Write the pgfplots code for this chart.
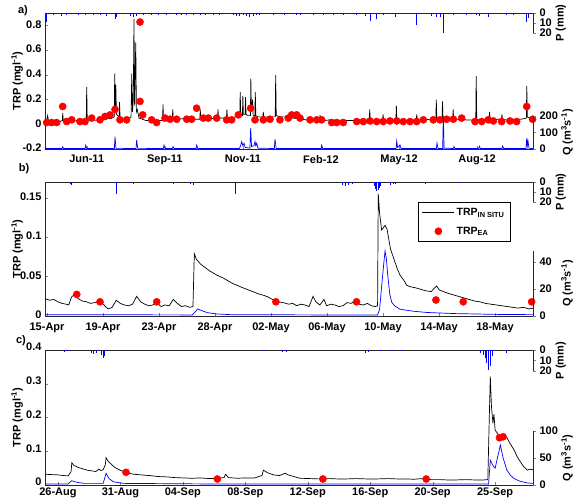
\documentclass[border=0pt]{standalone}
\usepackage{fontspec}
\setmainfont{Liberation Sans}
\usepackage{pgfplots}
\pgfplotsset{compat=1.18}
\newcommand\bigf{\bfseries\fontsize{11}{13}\selectfont}
\pgfplotsset{
  common/.style={scale only axis, width=488pt,
    /pgf/number format/assume math mode=true,
    tick label style={font=\bigf},
    label style={font=\bigf},
    major tick length=3pt},
  mainax/.style={common, axis lines*=left, tick align=inside,
    axis line style={black!85, line width=0.6pt},
    yticklabel style={/pgf/number format/fixed, inner ysep=0.5pt},
    xticklabel style={inner ysep=0.5pt},
    ylabel={TRP (mgl\textsuperscript{-1})},
    ylabel style={at={(axis description cs:-0.057,0.5)}, anchor=center}},
  rightax/.style={common, axis x line=none, axis y line*=right, tick align=outside,
    axis line style={black!85, line width=0.6pt}, clip=false,
    ylabel style={at={(axis description cs:#1,0.5)}, anchor=center}},
  pstyle/.style={rightax=1.057, y dir=reverse, ymin=0, ymax=20, ytick={0,10,20}, ylabel={P (mm)}},
  trp/.style={black, line width=0.7pt, no marks},
  ea/.style={only marks, mark=*, red, mark size=3.6pt},
  qline/.style={blue, line width=0.7pt, no marks},
  pbar/.style={ycomb, blue, line width=1pt, no marks},
  legline/.style={legend image code/.code={\draw[##1] (0pt,0pt) -- (32pt,0pt);}},
  legmark/.style={legend image code/.code={\draw[##1] plot coordinates {(16pt,0pt)};}},
}
\begin{document}
\bfseries
\begin{tikzpicture}
% ================= panel a =================
\begin{axis}[mainax, at={(45pt,-149pt)}, anchor=south west, height=136pt,
  xmin=0, xmax=550, ymin=-0.2, ymax=0.9, ytick={-0.2,0,0.2,0.4,0.6,0.8},
  xticklabel style={yshift=-5.5pt}, yticklabel style={yshift=1pt},
  xtick={47,135,223,311,399,487}, xticklabels={Jun-11,Sep-11,Nov-11,Feb-12,May-12,Aug-12}]
\draw[black!85, line width=0.6pt] (rel axis cs:0,1) -- (rel axis cs:1,1);
\addplot[trp] coordinates {
(0,0.03)(1.5,0.02)(3,0.07)(4,0.025)(8,0.02)(12,0.025)(16,0.02)(19.5,0.03)(20,0.09)(20.6,0.03)
(24,0.025)(28,0.03)(32,0.025)(36,0.03)(40,0.025)(44,0.03)(46.5,0.03)(47,0.30)(47.6,0.04)(50,0.03)
(55,0.035)(60,0.03)(65,0.04)(70,0.05)(74,0.045)(78,0.06)(78.6,0.41)(79.2,0.12)(79.8,0.32)(80.5,0.08)
(83.5,0.06)(84,0.18)(84.6,0.06)(88,0.04)(92,0.04)(95,0.05)(97,0.06)(97.8,0.41)(98.6,0.1)(99.5,0.2)
(100.3,0.85)(101,0.15)(102.3,0.66)(103,0.1)(104,0.12)(106,0.05)(110,0.04)(114,0.03)(118,0.03)(122,0.025)
(126,0.03)(130,0.03)(132.5,0.03)(133,0.16)(133.6,0.04)(137,0.04)(141,0.035)(143.5,0.04)(144,0.12)(144.6,0.04)
(150,0.04)(155,0.045)(160,0.04)(165,0.045)(170,0.04)(174.5,0.04)(175,0.12)(175.6,0.045)(180,0.045)(185,0.05)
(190,0.045)(194.5,0.05)(195,0.12)(195.6,0.05)(200,0.05)(204.5,0.05)(205,0.12)(205.6,0.05)(210,0.05)(215,0.06)
(219.5,0.06)(220,0.26)(220.6,0.08)(222.5,0.07)(223,0.23)(223.6,0.08)(225.5,0.08)(226,0.22)(226.6,0.08)(229,0.07)
(231.5,0.07)(232,0.37)(232.6,0.1)(234,0.2)(234.6,0.07)(236.5,0.07)(237,0.26)(237.6,0.07)(240,0.06)(244,0.06)
(245.5,0.06)(246,0.1)(246.6,0.06)(250,0.06)(255,0.06)(259.5,0.06)(260,0.40)(260.6,0.07)(265,0.06)(270,0.06)
(275,0.055)(280,0.05)(285,0.045)(290,0.04)(295,0.035)(300,0.035)(305,0.03)(309.5,0.035)(310,0.076)(310.6,0.035)
(315,0.03)(320,0.035)(325,0.03)(330,0.03)(335,0.035)(340,0.03)(345,0.03)(350,0.03)(355,0.035)(360,0.03)
(365.5,0.035)(366,0.12)(366.6,0.035)(370,0.03)(375,0.035)(380.5,0.035)(381,0.08)(381.6,0.035)(386,0.03)(391,0.035)
(395.5,0.035)(396,0.15)(396.6,0.035)(400,0.03)(405,0.035)(410,0.03)(414,0.035)(418.5,0.035)(419,0.08)(419.6,0.035)
(425,0.035)(430,0.04)(435,0.035)(440.5,0.04)(441,0.20)(441.6,0.04)(445,0.04)(447.5,0.04)(448,0.185)(448.6,0.04)
(452,0.04)(455,0.045)(459.5,0.04)(460,0.12)(460.6,0.04)(465,0.04)(470,0.04)(475,0.035)(480,0.035)(485.5,0.035)
(486,0.39)(486.6,0.04)(490,0.035)(495,0.04)(500.5,0.04)(501,0.10)(501.6,0.04)(505,0.035)(510,0.04)(514.5,0.04)
(515,0.08)(515.6,0.04)(520,0.035)(525,0.035)(530,0.04)(535,0.04)(540,0.045)(542.5,0.05)(543,0.31)(543.6,0.06)
(546,0.05)(550,0.04)};
\addplot[ea] coordinates {
(1.9,0.014)(7.5,0.014)(13.1,0.014)(19.9,0.144)(24.4,0.022)(30.1,0.036)(39.4,0.022)(45.1,0.022)(52.6,0.05)(62.0,0.036)
(67.6,0.063)(73.3,0.076)(78.9,0.12)(84.5,0.036)(92.0,0.036)(107.1,0.827)(107.1,0.185)(110.1,0.076)(120.2,0.036)(125.8,0.014)
(135.2,0.05)(140.9,0.041)(148.4,0.041)(159.7,0.041)(165.3,0.041)(170.9,0.13)(178.4,0.05)(184.1,0.05)(193.5,0.05)(204.7,0.036)
(210.4,0.036)(217.9,0.076)(231.8,0.13)(236.7,0.036)(246.1,0.036)(253.6,0.041)(264.8,0.036)(274.2,0.05)(278.0,0.076)(283.6,0.076)
(287.4,0.05)(298.7,0.036)(306.2,0.036)(311.8,0.036)(323.1,0.014)(328.7,0.014)(336.2,0.014)(351.3,0.022)(358.8,0.022)(366.3,0.027)
(373.8,0.022)(381.3,0.022)(388.8,0.027)(396.4,0.027)(403.8,0.022)(411.4,0.022)(418.9,0.022)(426.4,0.036)(437.6,0.036)(445.2,0.036)
(452.7,0.041)(460.2,0.041)(469.6,0.05)(484.6,0.022)(492.2,0.022)(499.6,0.036)(505.3,0.027)(514.7,0.022)(524.1,0.027)(531.6,0.022)
(542.9,0.144)(549.5,0.041)};
\end{axis}
\begin{axis}[rightax=1.07, at={(45pt,-149pt)}, anchor=south west, height=33pt,
  xmin=0, xmax=550, ymin=0, ymax=200, ytick={0,100,200}, ylabel={Q (m\textsuperscript{3}s\textsuperscript{-1})}]
\addplot[qline] coordinates {
(0,3)(19.2,3)(19.9,14)(21,3)(45.2,3)(45.9,24)(47,3)(78.2,3)(78.9,75)(80,4)
(102.6,3)(103.3,55)(104.5,4)(133.4,3)(134.1,24)(135.3,3)(143.6,3)(144.3,15)(145.5,3)(170.3,3)
(171,24)(172.2,3)(219,3)(220.5,20)(221.7,45)(223,20)(224.3,35)(225.5,10)(231,5)(231.8,127)
(232.8,15)(235.5,20)(236.7,45)(237.6,20)(238.6,35)(240,5)(258.5,3)(259.2,60)(260.5,3)(311.1,3)
(311.8,24)(313,3)(395.7,3)(396.4,48)(397.3,10)(400.1,25)(401.3,3)(441.1,3)(441.8,36)(443,3)
(448.2,3)(448.9,196)(449.8,5)(460.2,3)(460.9,15)(462,3)(488.8,3)(489.5,16)(490.7,3)(515.1,3)
(515.8,18)(517,3)(542.2,3)(542.9,65)(543.6,20)(544.3,50)(545.5,4)(550,3)};
\end{axis}
\begin{axis}[pstyle, at={(45pt,-13pt)}, anchor=north west, height=20pt, xmin=0, xmax=550]
\addplot[pbar] coordinates {
(1.9,9)(9.4,2)(18.8,3)(24.4,2)(37.6,2)(45.1,2)(54.5,2)(62,2)(69.5,2.5)(78.9,6.3)
(80.8,4)(95.8,3)(99.5,4)(103.3,3)(110.8,2)(120.2,2)(127.7,1.5)(137.1,2)(148.4,2)(154,1.5)
(159.7,2)(167.2,2)(174.7,2)(180.4,2)(189.7,2)(197.2,1.5)(212.2,2)(216,3)(219.7,3)(223.5,2)
(227.3,3)(231,4)(234.8,3)(238.5,2)(242.3,2)(257.3,2)(270,1.5)(283.6,2)(287.4,2)(302.4,2)
(313.7,1.5)(325,2)(336.2,2)(351.3,2)(360.7,3)(366.3,8)(373.8,6)(381.3,2)(394.5,4)(418.9,11.6)
(435.8,3)(441.5,4)(445.2,4)(448.9,20)(460.2,2)(475.2,2)(486.5,2)(490.2,3)(499.6,4)(520.3,2)
(527.8,2)(542.9,9)(544.8,5)};
\end{axis}
% ================= panel b =================
\begin{axis}[mainax, at={(45pt,-316pt)}, anchor=south west, height=134pt,
  xmin=-0.15, xmax=35.8, ymin=0, ymax=0.17, ytick={0,0.05,0.1,0.15},
  xticklabel style={yshift=-6.5pt}, yticklabel style={yshift=1pt},
  xtick={0,4.125,8.25,12.375,16.5,20.625,24.75,28.875,33},
  xticklabels={15-Apr,19-Apr,23-Apr,28-Apr,02-May,06-May,10-May,14-May,18-May},
  legend style={at={(axis description cs:0.764,0.851)}, anchor=north west, draw=black,
    font=\bfseries\fontsize{10.5}{12}\selectfont, inner xsep=4pt, inner ysep=4pt, row sep=6pt},
  legend cell align=left]
\draw[black!85, line width=0.6pt] (rel axis cs:0,1) -- (rel axis cs:1,1);
\addplot[trp, legline] coordinates {
(-0.15,0.022)(0.2,0.020)(0.5,0.021)(0.8,0.018)(1.1,0.016)(1.4,0.015)(1.6,0.014)(1.8,0.024)(2.0,0.027)(2.3,0.022)
(2.6,0.019)(2.9,0.018)(3.2,0.016)(3.5,0.017)(3.8,0.018)(4.1,0.016)(4.3,0.012)(4.5,0.009)(4.8,0.011)(5.1,0.020)
(5.4,0.016)(5.7,0.014)(6.0,0.013)(6.3,0.015)(6.6,0.025)(6.9,0.018)(7.2,0.015)(7.5,0.013)(7.8,0.014)(8.1,0.017)
(8.4,0.012)(8.7,0.014)(9.0,0.013)(9.3,0.021)(9.6,0.016)(9.9,0.012)(10.2,0.013)(10.5,0.011)(10.75,0.012)(10.85,0.079)
(11.0,0.072)(11.3,0.066)(11.6,0.062)(12.0,0.057)(12.5,0.052)(13.0,0.048)(13.4,0.044)(13.7,0.041)(14.0,0.039)(14.4,0.036)
(14.7,0.034)(15.0,0.032)(15.3,0.030)(15.6,0.028)(16.0,0.026)(16.3,0.024)(16.6,0.021)(17.0,0.018)(17.4,0.017)(17.8,0.015)
(18.1,0.016)(18.4,0.013)(18.7,0.015)(19.0,0.014)(19.3,0.012)(19.6,0.025)(19.8,0.018)(20.1,0.014)(20.4,0.021)(20.6,0.013)
(20.9,0.015)(21.2,0.014)(21.5,0.012)(21.8,0.013)(22.1,0.017)(22.4,0.016)(22.7,0.019)(23.0,0.015)(23.3,0.014)(23.6,0.016)
(23.9,0.013)(24.2,0.012)(24.35,0.013)(24.4,0.155)(24.5,0.13)(24.65,0.109)(24.9,0.115)(25.05,0.11)(25.3,0.085)(25.5,0.075)
(25.8,0.06)(26.0,0.052)(26.3,0.045)(26.5,0.039)(26.8,0.037)(27.1,0.036)(27.5,0.034)(27.9,0.032)(28.3,0.031)(28.7,0.038)
(28.9,0.033)(29.2,0.031)(29.5,0.029)(29.9,0.027)(30.3,0.025)(30.7,0.023)(31.1,0.021)(31.5,0.019)(31.9,0.018)(32.3,0.016)
(32.7,0.015)(33.1,0.014)(33.5,0.013)(33.9,0.012)(34.3,0.011)(34.7,0.010)(35.1,0.011)(35.5,0.009)(35.8,0.010)};
\addlegendentry{TRP\textsubscript{IN SITU}}
\addplot[ea, legmark] coordinates {
(2.19,0.0274)(3.9,0.018)(8.08,0.018)(16.86,0.018)(22.8,0.018)(28.65,0.0203)(30.66,0.018)(35.7,0.018)};
\addlegendentry{TRP\textsubscript{EA}}
\end{axis}
\begin{axis}[rightax=1.07, at={(45pt,-316pt)}, anchor=south west, height=65pt,
  xmin=-0.15, xmax=35.8, ymin=0, ymax=48, ytick={0,20,40}, ylabel={Q (m\textsuperscript{3}s\textsuperscript{-1})}]
\addplot[qline] coordinates {
(-0.15,1)(10.7,0.8)(10.9,3)(11.1,5.2)(11.4,4)(11.8,2.5)(12.5,1.5)(13.5,1)(20,0.8)(24.35,0.8)
(24.5,5)(24.65,22)(24.8,38)(24.9,48)(25.0,42)(25.1,30)(25.25,16)(25.4,10)(25.6,7.6)(26.0,5)
(27,3.5)(28,2.6)(30,1.8)(33,1.2)(35.8,1)};
\end{axis}
\begin{axis}[pstyle, at={(45pt,-182pt)}, anchor=north west, height=20pt, xmin=-0.15, xmax=35.8]
\addplot[pbar] coordinates {
(1.7,2)(1.8,3)(4.0,1)(5.1,12)(5.6,1)(6.0,1)(6.4,2)(6.7,1)(9.3,2)(10.6,2)
(10.8,2.5)(13.9,12)(21.8,3)(22.0,4)(22.2,3)(22.5,2)(23.2,1)(24.1,4)(24.2,7)(24.3,9)
(24.4,8)(24.5,6)(24.6,4)(25.3,3)(25.5,2)(25.7,2)(27.9,2)(28.6,1)(30.3,1)};
\end{axis}
% ================= panel c =================
\begin{axis}[mainax, at={(45pt,-485pt)}, anchor=south west, height=135pt,
  xmin=-0.89, xmax=32.6, ymin=0, ymax=0.4, ytick={0,0.1,0.2,0.3,0.4},
  xticklabel style={yshift=-2pt}, yticklabel style={yshift=3pt},
  xtick={0,4.2857,8.5714,12.857,17.143,21.429,25.714,30},
  xticklabels={26-Aug,31-Aug,04-Sep,08-Sep,12-Sep,16-Sep,20-Sep,25-Sep}]
\draw[black!85, line width=0.6pt] (rel axis cs:0,1) -- (rel axis cs:1,1);
\addplot[trp] coordinates {
(-0.89,0.032)(-0.5,0.031)(0,0.030)(0.4,0.028)(0.7,0.027)(0.9,0.04)(0.95,0.066)(1.1,0.058)(1.4,0.052)(1.7,0.048)
(2.0,0.044)(2.3,0.042)(2.6,0.040)(2.8,0.047)(2.95,0.043)(3.1,0.045)(3.25,0.06)(3.3,0.081)(3.45,0.07)(3.6,0.064)
(3.9,0.052)(4.26,0.044)(4.7,0.037)(5.17,0.032)(5.7,0.030)(6.3,0.028)(6.9,0.025)(7.5,0.024)(8.0,0.022)(8.6,0.021)
(9.2,0.020)(9.75,0.021)(10.4,0.019)(11.0,0.020)(11.4,0.022)(11.5,0.032)(11.7,0.022)(12.3,0.020)(12.9,0.021)(13.5,0.021)
(14.0,0.028)(14.1,0.044)(14.4,0.036)(14.8,0.030)(15.2,0.028)(15.6,0.035)(15.8,0.030)(16.2,0.025)(16.6,0.020)(17.3,0.019)
(18.0,0.018)(18.6,0.019)(19.2,0.018)(19.8,0.018)(20.5,0.019)(21.2,0.018)(21.9,0.018)(22.6,0.019)(23.3,0.018)(24.0,0.018)
(24.4,0.017)(25.0,0.019)(25.6,0.016)(26.2,0.016)(26.7,0.015)(27.3,0.015)(28.0,0.016)(28.6,0.015)(29.2,0.015)(29.5,0.016)
(29.6,0.2)(29.67,0.321)(29.75,0.232)(29.85,0.183)(29.92,0.21)(30.0,0.163)(30.2,0.15)(30.36,0.143)(30.6,0.142)(30.8,0.141)
(31.0,0.125)(31.3,0.104)(31.5,0.085)(31.73,0.069)(31.95,0.055)(32.2,0.044)(32.4,0.047)(32.6,0.045)};
\addplot[ea] coordinates {
(4.67,0.0376)(10.94,0.0178)(18.18,0.0178)(25.27,0.0178)(30.3,0.14)(30.55,0.143)};
\end{axis}
\begin{axis}[rightax=1.07, at={(45pt,-485pt)}, anchor=south west, height=54pt,
  xmin=-0.89, xmax=32.6, ymin=0, ymax=100, ytick={0,50,100}, ylabel={Q (m\textsuperscript{3}s\textsuperscript{-1})}]
\addplot[qline] coordinates {
(-0.89,2)(0.7,2)(0.94,8)(1.3,5)(1.8,3)(3.1,3)(3.3,21.6)(3.5,12)(3.8,6)(4.5,3)
(10,2)(29.55,2)(29.67,46)(29.85,36)(30.0,31)(30.2,55)(30.36,74)(30.55,50)(30.8,28)(31.05,18)
(31.3,12)(31.7,7)(32.2,4)(32.6,3)};
\end{axis}
\begin{axis}[pstyle, at={(45pt,-350pt)}, anchor=north west, height=21pt, xmin=-0.89, xmax=32.6]
\addplot[pbar] coordinates {
(0.48,2)(0.69,1)(0.94,1)(2.31,3)(2.47,4)(2.66,3)(3.0,5)(3.1,8)(3.2,6)(11.6,1)
(14.2,1)(14.96,1)(15.4,2)(15.65,2)(16.6,1)(18.6,1)(21.1,3)(21.3,2)(22.1,1)(22.8,1)
(23.5,1)(25.1,1)(29.0,3)(29.2,5)(29.35,8)(29.44,12)(29.56,19)(29.67,15)(29.79,6)(30.8,3)(31.0,1)};
\end{axis}
% panel letters
\node[font=\bigf] at (23pt,-11pt) {a)};
\node[font=\bigf] at (24pt,-169pt) {b)};
\node[font=\bigf] at (21pt,-341pt) {c)};
\pgfresetboundingbox
\useasboundingbox (0pt,0pt) rectangle (573pt,-501pt);
\end{tikzpicture}
\end{document}
